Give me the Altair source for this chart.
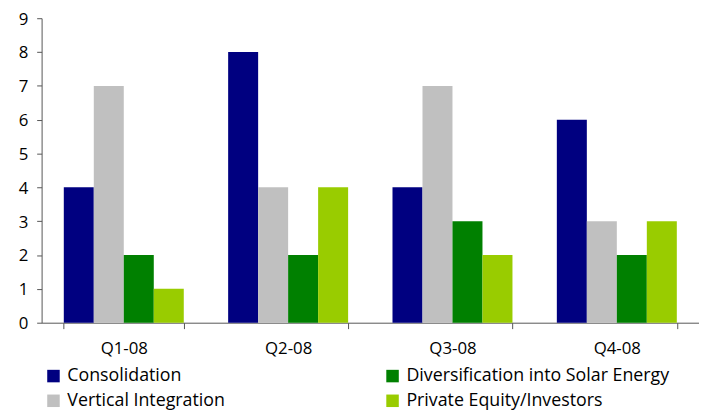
import altair as alt
import pandas as pd

quarters = ["Q1-08", "Q2-08", "Q3-08", "Q4-08"]
series = ["Consolidation", "Vertical Integration", "Diversification into Solar Energy", "Private Equity/Investors"]
values = {
    "Consolidation": [4, 8, 4, 6],
    "Vertical Integration": [7, 4, 7, 3],
    "Diversification into Solar Energy": [2, 2, 3, 2],
    "Private Equity/Investors": [1, 4, 2, 3],
}
colors = {
    "Consolidation": "#000080",
    "Vertical Integration": "#C0C0C0",
    "Diversification into Solar Energy": "#008000",
    "Private Equity/Investors": "#99CC00",
}

rows = []
for s in series:
    for q, v in zip(quarters, values[s]):
        rows.append({"quarter": q, "series": s, "value": v})
df = pd.DataFrame(rows)

FONT = "Open Sans"

chart = alt.Chart(df).mark_bar().encode(
    x=alt.X("quarter:N", sort=quarters, title=None,
            scale=alt.Scale(paddingInner=0.27, paddingOuter=0.135),
            axis=alt.Axis(labelAngle=0, labelFontSize=17, labelColor="#000", labelFont=FONT,
                          tickBand="extent", tickSize=6, tickColor="#555", domainColor="#555",
                          labelPadding=12, grid=False)),
    xOffset=alt.XOffset("series:N", sort=series, scale=alt.Scale(paddingInner=0, paddingOuter=0)),
    y=alt.Y("value:Q", title=None,
            scale=alt.Scale(domain=[0, 9], nice=False),
            axis=alt.Axis(values=list(range(10)), grid=False, labelFontSize=17, labelColor="#000",
                          labelFont=FONT, tickSize=5, tickColor="#555", domainColor="#555",
                          labelPadding=9, labelOffset=1)),
    color=alt.Color("series:N",
                    scale=alt.Scale(domain=series, range=[colors[s] for s in series]),
                    legend=alt.Legend(title=None, orient="none", legendX=3, legendY=353, columns=2,
                                      columnPadding=160, rowPadding=7, symbolType="square",
                                      symbolSize=160, symbolStrokeWidth=0, labelFontSize=18,
                                      labelFont=FONT, labelColor="#000", labelOffset=5,
                                      labelLimit=400)),
).properties(
    width=665, height=308,
    autosize=alt.AutoSizeParams(type="none"),
    padding={"left": 34, "top": 8, "right": 0, "bottom": 88},
).configure_view(stroke=None)

chart.save("out.html", embed_options={"renderer": "svg", "actions": False})
